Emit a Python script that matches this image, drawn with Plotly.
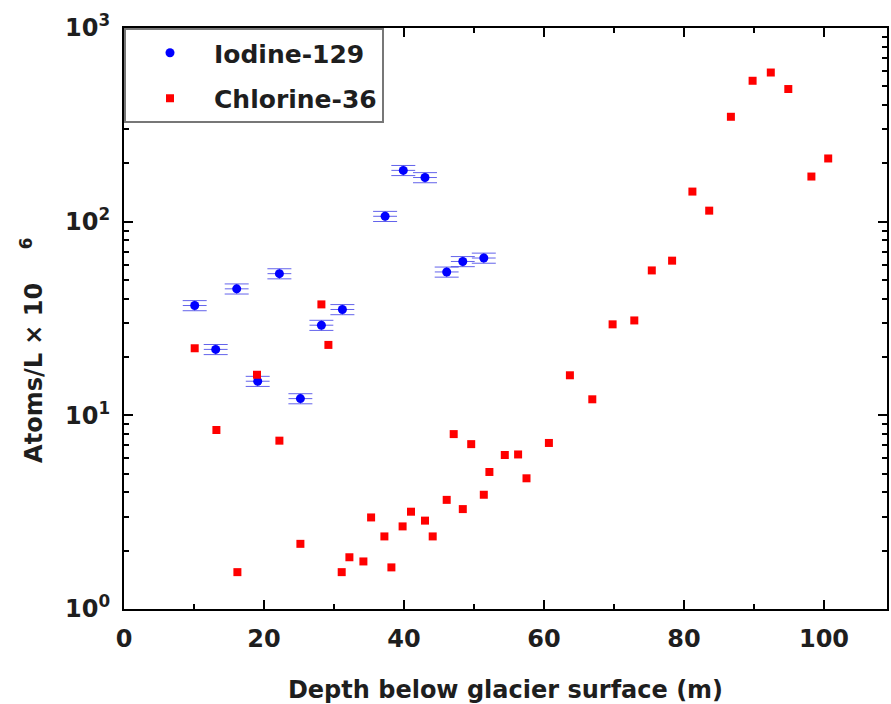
import plotly.graph_objects as go

# Iodine-129 data
i_depth = [10.1, 13.1, 16.1, 19.1, 22.2, 25.2, 28.2, 31.2, 37.3, 39.9, 43.0, 46.1, 48.4, 51.4]
i_conc = [36.9, 21.9, 45.0, 15.0, 53.9, 12.2, 29.2, 35.2, 106.6, 184, 169, 55, 62.3, 64.9]
i_xerr = [1.7] * 14
i_yerr_pct = 6

# Chlorine-36 data
c_depth = [10.1, 13.2, 16.2, 19.0, 22.2, 25.2, 28.2, 29.2, 31.1, 32.2, 34.2, 35.3, 37.2, 38.2,
           39.8, 41.0, 43.0, 44.1, 46.1, 47.1, 48.4, 49.6, 51.4, 52.2, 54.4, 56.3, 57.5, 60.7,
           63.7, 66.9, 69.8, 72.9, 75.4, 78.3, 81.2, 83.6, 86.7, 89.8, 92.4, 94.9, 98.2, 100.6]
c_conc = [22.2, 8.4, 1.55, 16.2, 7.4, 2.17, 37.4, 23.1, 1.55, 1.85, 1.76, 2.97, 2.37, 1.64,
          2.67, 3.18, 2.86, 2.37, 3.66, 8.0, 3.28, 7.1, 3.89, 5.1, 6.24, 6.28, 4.73, 7.2,
          16.1, 12.1, 29.5, 30.9, 56, 62.9, 143, 114, 348, 534, 589, 484, 171, 212]

x_ticks = [0, 20, 40, 60, 80, 100]
x_minor = [10, 30, 50, 70, 90]
y_ticks = [1, 10, 100, 1000]
y_ticktext = ["10<sup>0</sup>", "10<sup>1</sup>", "10<sup>2</sup>", "10<sup>3</sup>"]

FONT = "DejaVu Sans"
TXT = "#1e1e1e"

fig = go.Figure()
fig.add_trace(go.Scatter(
    x=i_depth, y=i_conc, mode="markers", name="Iodine-129", legendgroup="a",
    marker=dict(symbol="circle", color="#0000ff", size=9),
    error_x=dict(type="data", array=i_xerr, color="rgba(60,60,230,0.8)", thickness=1, width=0),
    error_y=dict(type="percent", value=i_yerr_pct, color="rgba(60,60,230,0.8)", thickness=1, width=12),
))
fig.add_trace(go.Scatter(
    x=c_depth, y=c_conc, mode="markers", name="Chlorine-36", legendgroup="b",
    marker=dict(symbol="square", color="#ff0000", size=8),
))

minor_vals = [m * 10 ** k for k in range(0, 3) for m in range(2, 10)]

fig.update_layout(
    width=891, height=704,
    margin=dict(l=124, r=2, t=28, b=95),
    paper_bgcolor="white", plot_bgcolor="white",
    font=dict(family=FONT, color=TXT, size=22, weight="bold"),
    showlegend=True,
    legend=dict(
        x=0, y=1, xanchor="left", yanchor="top",
        bordercolor="#777", borderwidth=2, bgcolor="white",
        font=dict(family=FONT, size=25, color=TXT, weight="bold"),
        tracegroupgap=10, itemwidth=78,
    ),
    xaxis=dict(
        range=[0, 109], tickvals=x_ticks, ticks="inside", ticklen=9, tickwidth=2,
        tickcolor="black", showline=True, linecolor="black", linewidth=2,
        mirror="allticks", showgrid=False, zeroline=False, ticklabelstandoff=7,
        tickfont=dict(family=FONT, size=24, color=TXT, weight="bold"),
        minor=dict(tickvals=x_minor, ticks="inside", ticklen=5, tickwidth=2,
                   tickcolor="black", showgrid=False),
        title=dict(text="Depth below glacier surface (m)", standoff=30,
                   font=dict(family=FONT, size=24, color=TXT, weight="bold")),
    ),
    yaxis=dict(
        type="log", range=[0, 3], tickvals=y_ticks, ticktext=y_ticktext,
        ticks="inside", ticklen=9, tickwidth=2, tickcolor="black",
        showline=True, linecolor="black", linewidth=2, mirror="allticks",
        showgrid=False, zeroline=False, ticklabelstandoff=7,
        tickfont=dict(family=FONT, size=24, color=TXT, weight="bold"),
        minor=dict(tickvals=minor_vals, ticks="inside", ticklen=5, tickwidth=2,
                   tickcolor="black", showgrid=False),
    ),
)

fig.add_annotation(
    text="Atoms/L × 10    <sup>6</sup>", textangle=-90, showarrow=False,
    xref="paper", yref="paper", x=-0.12, y=0.445, xanchor="center", yanchor="middle",
    font=dict(family=FONT, size=24, color=TXT, weight="bold"),
)

fig.write_html("out.html")
